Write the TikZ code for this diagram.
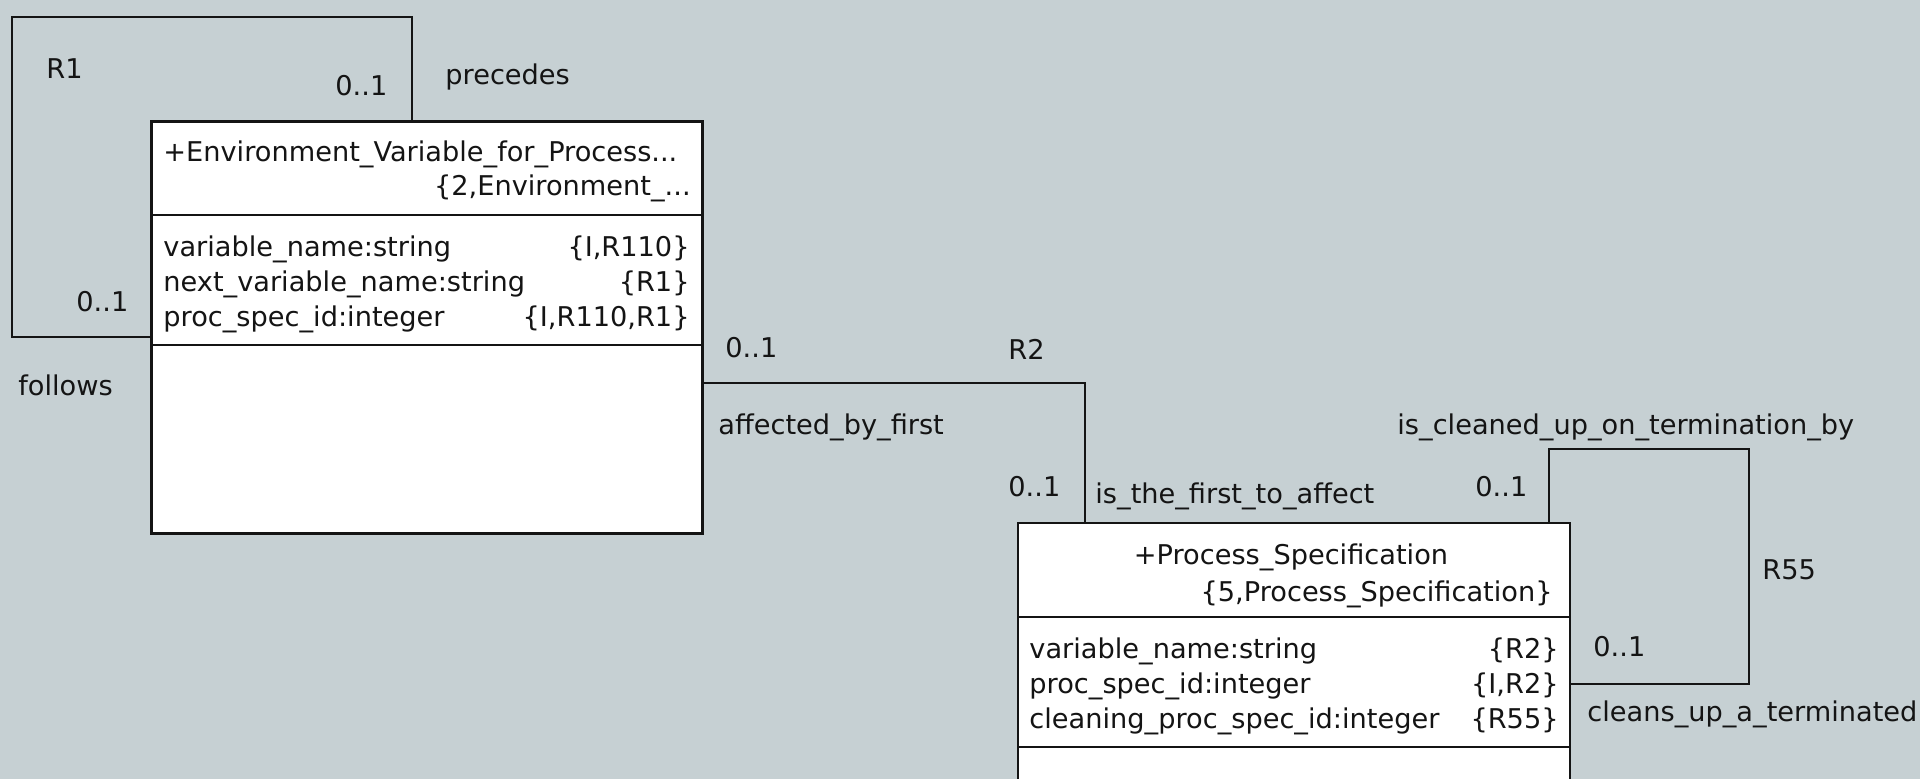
\documentclass[tikz,border=0pt]{standalone}
\usepackage{fontspec}
\setmainfont{DejaVu Sans}
\usetikzlibrary{fit,calc}
\definecolor{bgcol}{RGB}{198,208,211}
\definecolor{ink}{RGB}{20,20,20}
\begin{document}
\begin{tikzpicture}[x=0.5pt,y=-0.5pt,
  lbl/.style={inner sep=0pt, text height=9.9pt, text depth=0pt, text=ink, font=\fontsize{13.6pt}{17.5pt}\selectfont},
  classbox/.style={draw=ink, fill=white, line width=1.1pt, inner sep=0pt},
  divider/.style={draw=ink, line width=1.1pt},
  conn/.style={draw=ink, line width=1pt}]
\path[use as bounding box, fill=bgcol] (0,0) rectangle (1920,779);

% corner points of the class boxes
\coordinate (evNW) at (151.5,121.5);
\coordinate (evSE) at (702.5,533.5);
\coordinate (psNW) at (1018,523);
\coordinate (psSE) at (1570,800);

% connector bend points
\coordinate (r1tr) at (412,16.7);
\coordinate (r1bl) at (11.5,337);
\coordinate (r2c) at (1085,383);
\coordinate (r55a) at (1549,449);
\coordinate (r55b) at (1749,684);

% invisible frames first (for anchors)
\node[fit=(evNW)(evSE), inner sep=0pt] (ev) {};
\node[fit=(psNW)(psSE), inner sep=0pt] (ps) {};

% connectors
\draw[conn] (r1tr |- ev.north) -- (r1tr) -| (r1bl) -- (r1bl -| ev.west);
\draw[conn] (ev.east |- r2c) -| (ps.north -| r2c);
\draw[conn] (ps.north -| r55a) -- (r55a) -| (r55b) -- (ps.east |- r55b);

% class boxes
\node[classbox, fit=(evNW)(evSE)] (evbox) {};
\draw[divider] ($(ev.north west)+(0,94)$) -- ($(ev.north east)+(0,94)$);
\draw[divider] ($(ev.north west)+(0,224)$) -- ($(ev.north east)+(0,224)$);
\node[classbox, fit=(psNW)(psSE)] (psbox) {};
\draw[divider] ($(ps.north west)+(0,94)$) -- ($(ps.north east)+(0,94)$);
\draw[divider] ($(ps.north west)+(0,224)$) -- ($(ps.north east)+(0,224)$);

% box 1 texts
\node[lbl, anchor=west] (evt1) at (163,152) {+Environment\_Variable\_for\_Process...};
\node[lbl, anchor=east] (evt2) at (691,186) {\{2,Environment\_...};
\node[lbl, anchor=west] (eva1) at (163,247) {variable\_name:string};
\node[lbl, anchor=west] (eva2) at (163,282) {next\_variable\_name:string};
\node[lbl, anchor=west] (eva3) at (163,317) {proc\_spec\_id:integer};
\node[lbl, anchor=east] (evr1) at (690,247) {\{I,R110\}};
\node[lbl, anchor=east] (evr2) at (690,282) {\{R1\}};
\node[lbl, anchor=east] (evr3) at (690,317) {\{I,R110,R1\}};

% box 2 texts
\node[lbl, anchor=center] (pst1) at (1291,555) {+Process\_Specification};
\node[lbl, anchor=east] (pst2) at (1553,592) {\{5,Process\_Specification\}};
\node[lbl, anchor=west] (psa1) at (1029,649) {variable\_name:string};
\node[lbl, anchor=west] (psa2) at (1029,684) {proc\_spec\_id:integer};
\node[lbl, anchor=west] (psa3) at (1029,719) {cleaning\_proc\_spec\_id:integer};
\node[lbl, anchor=east] (psr1) at (1559,649) {\{R2\}};
\node[lbl, anchor=east] (psr2) at (1559,684) {\{I,R2\}};
\node[lbl, anchor=east] (psr3) at (1559,719) {\{R55\}};

% R1 labels
\node[lbl, anchor=west] (r1name) at (46,69) {R1};
\node[lbl, anchor=west] (r1m1) at (335,86) {0..1};
\node[lbl, anchor=west] (r1p) at (445,75) {precedes};
\node[lbl, anchor=west] (r1m2) at (76,302) {0..1};
\node[lbl, anchor=west] (r1f) at (18,386) {follows};

% R2 labels
\node[lbl, anchor=west] (r2m1) at (725,348) {0..1};
\node[lbl, anchor=west] (r2name) at (1008,350) {R2};
\node[lbl, anchor=west] (r2a) at (718,425) {affected\_by\_first};
\node[lbl, anchor=west] (r2m2) at (1008,487) {0..1};
\node[lbl, anchor=west] (r2b) at (1095,494) {is\_the\_first\_to\_affect};

% R55 labels
\node[lbl, anchor=west] (r55t) at (1397,425) {is\_cleaned\_up\_on\_termination\_by};
\node[lbl, anchor=west] (r55m1) at (1475,487) {0..1};
\node[lbl, anchor=west] (r55name) at (1762,570) {R55};
\node[lbl, anchor=west] (r55m2) at (1593,647) {0..1};
\node[lbl, anchor=west] (r55c) at (1587,712) {cleans\_up\_a\_terminated};
\end{tikzpicture}
\end{document}
